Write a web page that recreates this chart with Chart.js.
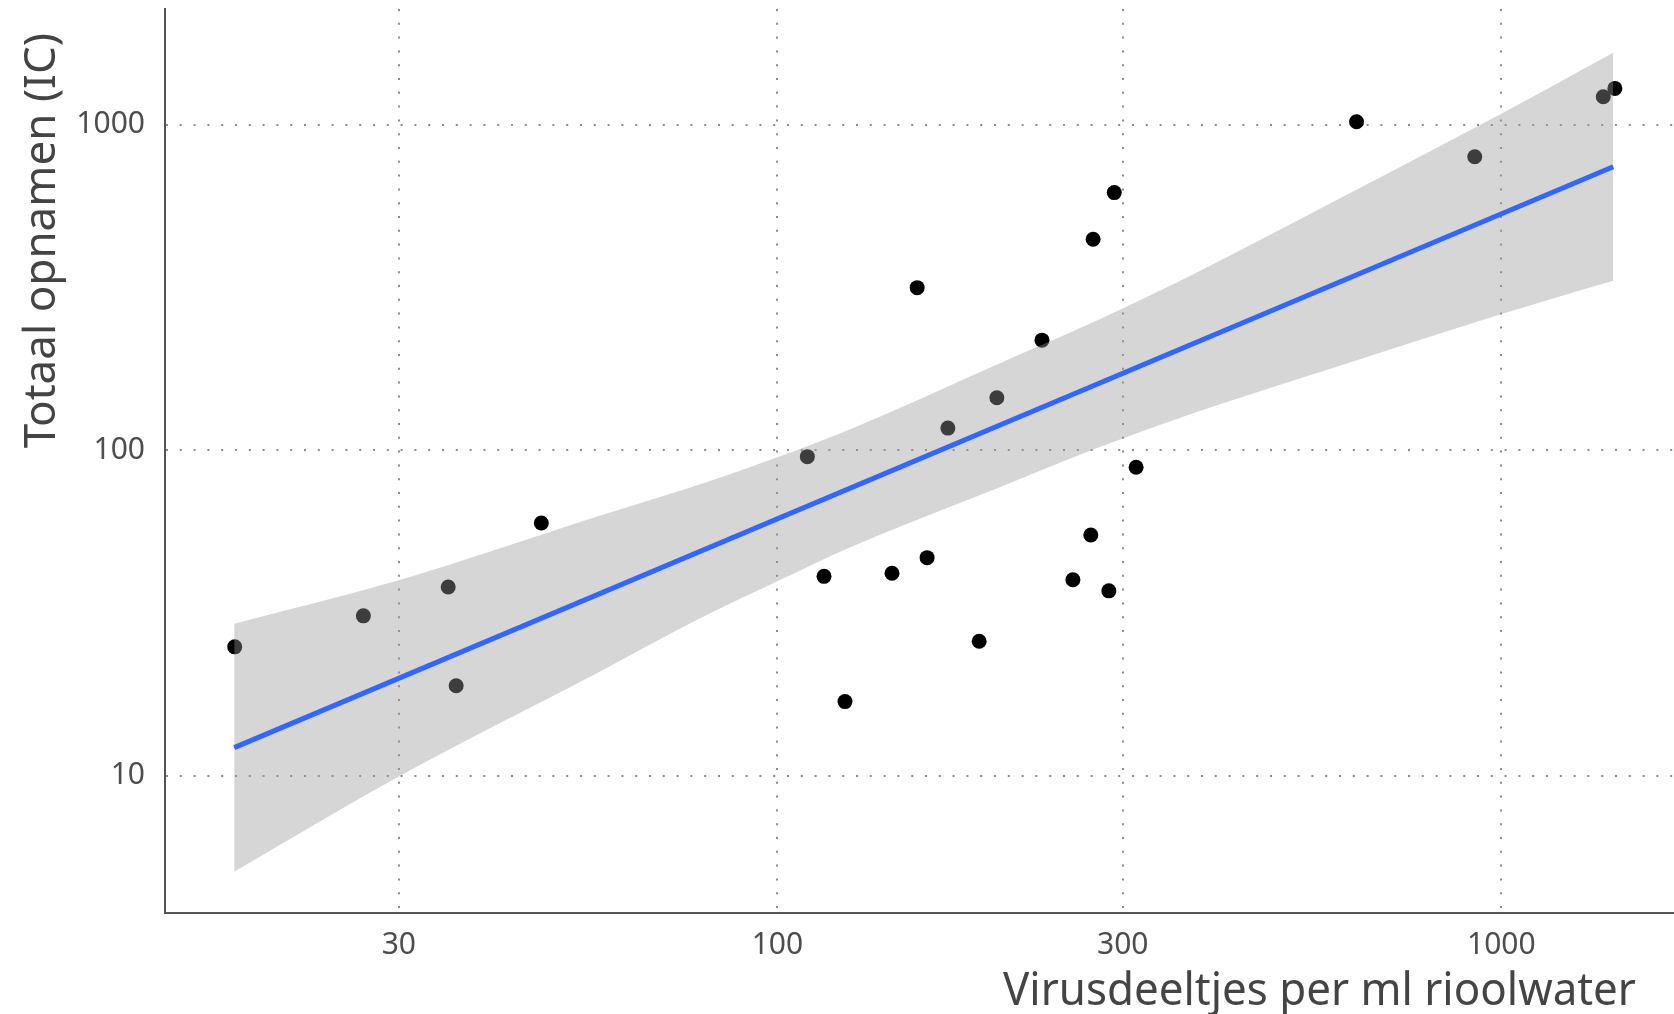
<!DOCTYPE html>
<html>
<head>
<meta charset="utf-8">
<script src="https://cdn.jsdelivr.net/npm/chart.js@4.4.1/dist/chart.umd.min.js"></script>
<style>
    html, body { margin: 0; padding: 0; background: #fff; overflow: hidden; }
    #wrap { width: 1674px; height: 1014px; }
    canvas { display: block; }
</style>
</head>
<body>
<div id="wrap"><canvas id="chart" width="1674" height="1014"></canvas></div>
<script>

// Virus particles per ml sewage water (x) vs. total ICU admissions (y)
const virusX   = [17.8, 26.8, 35.1, 36.0, 47.2, 110, 116, 124, 144, 156, 161, 172, 190, 201, 232, 256, 271, 273, 287, 292, 313, 631, 919, 1383, 1435];
const opnamenY = [24.9, 31.0, 38.0, 18.9, 59.8, 95.6, 41.0, 16.9, 41.9, 316, 46.8, 117, 25.9, 145, 218, 40.0, 54.9, 445, 37.0, 619, 88.7, 1022, 798, 1220, 1294];

// regression line (log-log) and its confidence band
const fitX = [17.77, 1427.6];
const fitY = [12.2, 743];
const bandX     = [17.77, 30.07, 56.83, 78.08, 100, 125.9, 202.9, 278.8, 383.2, 585.2, 995.6, 1167, 1427.6];
const bandUpper = [29.33, 39.96, 62.92, 78.44, 95.17, 115.9, 185.2, 252.9, 355.7, 579.6, 1075.5, 1302.6, 1665];
const bandLower = [5.075, 9.986, 20.87, 30.40, 39.59, 50.31, 77.01, 102.3, 132.1, 179.1, 261.4, 290.8, 331.9];

const xTicks = [30, 100, 300, 1000];
const yTicks = [10, 100, 1000];

const xTitle = "Virusdeeltjes per ml rioolwater";
const yTitle = "Totaal opnamen (IC)";

const toPoints = (xs, ys) => xs.map((x, i) => ({ x, y: ys[i] }));

const axisTitles = {
    id: "axisTitles",
    afterDraw(chart){
        const ctx = chart.ctx;

        ctx.save();
        ctx.fillStyle = "#444";
        ctx.font = "44px 'Noto Sans'";
        ctx.translate(55, 33);
        ctx.rotate(-Math.PI / 2);
        ctx.textAlign = "right";
        ctx.textBaseline = "alphabetic";
        ctx.fillText(yTitle, 0, 0);
        ctx.restore();

        ctx.save();
        ctx.fillStyle = "#444";
        ctx.font = "46px 'Noto Sans'";
        const w = ctx.measureText(xTitle).width;
        ctx.translate(1636, 1005);
        ctx.scale(633 / w, 1);
        ctx.textAlign = "right";
        ctx.textBaseline = "alphabetic";
        ctx.fillText(xTitle, 0, 0);
        ctx.restore();
    }
};

// keep the plot panel fixed, no extra room for half tick labels
function fixBox(s, size){
    if(s.isHorizontal()) s.height = size; else s.width = size;
    s.paddingTop = 0;
    s.paddingBottom = 0;
    s.paddingLeft = 0;
    s.paddingRight = 0;
}

const gridStyle   = { color: "#8c8c8c", lineWidth: 2, drawTicks: false };
const borderStyle = { display: true, color: "#555", width: 2, dash: [2, 11.8] };
const tickFont    = { family: "'Noto Sans'", size: 30 };

new Chart(document.getElementById("chart"), {
    type: "scatter",
    data: {
        datasets: [
            {
                label: "punten",
                data: toPoints(virusX, opnamenY),
                backgroundColor: "#000",
                borderWidth: 0,
                pointRadius: 7.5,
                order: 3
            },
            {
                label: "band boven",
                type: "line",
                data: toPoints(bandX, bandUpper),
                borderWidth: 0,
                pointRadius: 0,
                cubicInterpolationMode: "monotone",
                fill: "+1",
                backgroundColor: "rgba(153,153,153,0.4)",
                order: 2
            },
            {
                label: "band onder",
                type: "line",
                data: toPoints(bandX, bandLower),
                borderWidth: 0,
                pointRadius: 0,
                cubicInterpolationMode: "monotone",
                fill: false,
                order: 2
            },
            {
                label: "fit",
                type: "line",
                data: toPoints(fitX, fitY),
                borderColor: "#3366FF",
                borderWidth: 5,
                pointRadius: 0,
                fill: false,
                order: 1
            }
        ]
    },
    options: {
        responsive: false,
        animation: false,
        layout: {
            autoPadding: false,
            padding: { top: 9, left: 0, right: 0, bottom: 0 }
        },
        plugins: {
            legend: { display: false },
            tooltip: { enabled: false }
        },
        scales: {
            x: {
                type: "logarithmic",
                min: 14.26,
                max: 1732,
                grid: gridStyle,
                border: borderStyle,
                afterBuildTicks: s => { s.ticks = xTicks.map(v => ({ value: v })); },
                afterFit: s => fixBox(s, 101),
                ticks: {
                    font: tickFont,
                    color: "#4d4d4d",
                    padding: 14,
                    maxRotation: 0,
                    callback: v => String(v)
                }
            },
            y: {
                type: "logarithmic",
                min: 3.788,
                max: 2269,
                grid: gridStyle,
                border: borderStyle,
                afterBuildTicks: s => { s.ticks = yTicks.map(v => ({ value: v })); },
                afterFit: s => fixBox(s, 165),
                ticks: {
                    font: tickFont,
                    color: "#4d4d4d",
                    padding: 20,
                    callback: v => String(v)
                }
            }
        }
    },
    plugins: [axisTitles]
});
</script>
</body>
</html>
